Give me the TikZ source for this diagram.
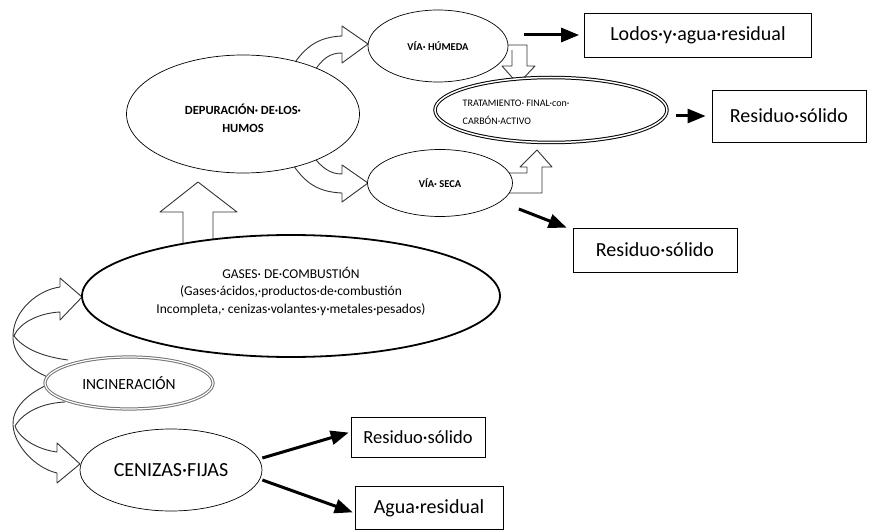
\documentclass[tikz,border=0pt]{standalone}
\usepackage{fontspec}
\setmainfont{Carlito}
\usetikzlibrary{shapes.geometric,arrows.meta,positioning,calc}

\begin{document}
\begin{tikzpicture}[x=1pt,y=-1pt,
  elli/.style={draw,ellipse,fill=white,inner sep=0pt,align=center,line width=0.7pt},
  caja/.style={draw,rectangle,fill=white,inner sep=0pt,line width=0.8pt,
               font=\fontsize{20}{24}\selectfont},
  flecha/.style={-{Triangle[length=18pt,width=14pt]},line width=3pt},
  hueca/.style={draw=black!80,fill=white,line width=0.9pt,line join=round}
]
\useasboundingbox (0,0) rectangle (873,532);

% flechas huecas
\draw[hueca] (183,245) -- (183,212) -- (160,212) -- (198,182) -- (237,212)
  -- (213,212) -- (213,245);
\draw[hueca] (290,70) .. controls (305,45) and (320,37) .. (342,36) -- (342,26)
  -- (368,44) -- (342,63) -- (342,53) .. controls (330,53) and (322,58) .. (312,75) -- cycle;
\draw[hueca] (290,160) .. controls (305,185) and (320,192) .. (342,193) -- (342,202)
  -- (368,183) -- (342,165) -- (342,174) .. controls (330,174) and (322,168) .. (312,155) -- cycle;
\draw[hueca] (505,45) -- (527,45) -- (527,66) -- (535,66) -- (518,84) -- (502,66)
  -- (512,66) -- (512,50);
\draw[hueca] (500,173) -- (527,173) -- (527,167) -- (520,167) -- (537,150) -- (552,167)
  -- (542,167) -- (542,193) -- (500,193);
\draw[hueca] (50,378) .. controls (25,368) and (12,352) .. (13,335)
  .. controls (14,310) and (38,290) .. (60,287) -- (60,278) -- (82,297) -- (60,320)
  -- (60,312) .. controls (40,313) and (20,322) .. (14,336)
  .. controls (25,350) and (45,357) .. (68,360);
\draw[hueca] (47,385) .. controls (25,395) and (12,410) .. (13,425)
  .. controls (14,445) and (35,468) .. (57,473) -- (57,483) -- (80,464) -- (57,443)
  -- (57,452) .. controls (40,450) and (20,440) .. (15,426)
  .. controls (25,410) and (45,403) .. (65,402);

% elipses
\node[elli,minimum width=233pt,minimum height=118pt,
      label={[yshift=-4pt,align=center,font=\bfseries\fontsize{12.5}{18}\selectfont]center:%
      DEPURACIÓN· DE·LOS·\\HUMOS}] (depur) at (243,114) {};
\node[elli,minimum width=140pt,minimum height=72pt,
      font=\bfseries\fontsize{10.5}{12}\selectfont] (humeda) at (438,46) {VÍA· HÚMEDA};
\node[elli,minimum width=145pt,minimum height=67pt,
      font=\bfseries\fontsize{10.5}{12}\selectfont] (seca) at (440,183) {VÍA· SECA};
\node[elli,line width=1pt,double,double distance=1.5pt,minimum width=232pt,minimum height=65pt,
      label={[xshift=-35pt,yshift=-2pt,align=left,font=\fontsize{10}{18}\selectfont]center:%
      TRATAMIENTO· FINAL·con·\\CARBÓN·ACTIVO}] (trat) at (551,110) {};
\node[elli,line width=1.8pt,minimum width=418pt,minimum height=122pt,
      label={[yshift=5pt,align=center,font=\fontsize{13.5}{17.5}\selectfont]center:%
      GASES· DE·COMBUSTIÓN\\(Gases·ácidos,·productos·de·combustión\\%
      Incompleta,· cenizas·volantes·y·metales·pesados)}] (gases) at (291,296) {};
\node[elli,draw=black!55,line width=1pt,double=white,double distance=1.2pt,
      minimum width=168pt,minimum height=52pt,
      font=\fontsize{15.5}{18}\selectfont] (incin) at (129,383) {INCINERACIÓN};
\node[elli,minimum width=182pt,minimum height=82pt,
      font=\fontsize{20}{24}\selectfont] (cenizas) at (171,470) {CENIZAS·FIJAS};

% cajas
\node[caja,minimum width=227pt,minimum height=44pt] (lodos) at (698,35) {Lodos·y·agua·residual};
\node[caja,minimum width=154pt,minimum height=52pt] (resR) at (789,116) {Residuo·sólido};
\node[caja,minimum width=164pt,minimum height=44pt] (resM) at (655,250) {Residuo·sólido};
\node[caja,minimum width=134pt,minimum height=40pt,font=\fontsize{18.5}{22}\selectfont]
      (resB) at (418,437) {Residuo·sólido};
\node[caja,minimum width=148pt,minimum height=43pt] (agua) at (429,508) {Agua·residual};

% flechas
\draw[flecha,shorten <=16pt,shorten >=5pt] (humeda.east |- lodos.west) -- (lodos.west);
\draw[flecha,shorten <=8pt,shorten >=6pt] (trat.east |- resR.west) -- (resR.west);
\draw[flecha] ($(seca.east)+(6,26)$) -- ([xshift=-6pt]resM.north west);
\draw[flecha,shorten >=2pt] ($(cenizas.east)+(0,-12)$) -- ([yshift=5pt]resB.west);
\draw[flecha,shorten >=2pt] ($(cenizas.east)+(0,10)$) -- ([yshift=-5pt]agua.west);
\end{tikzpicture}
\end{document}
